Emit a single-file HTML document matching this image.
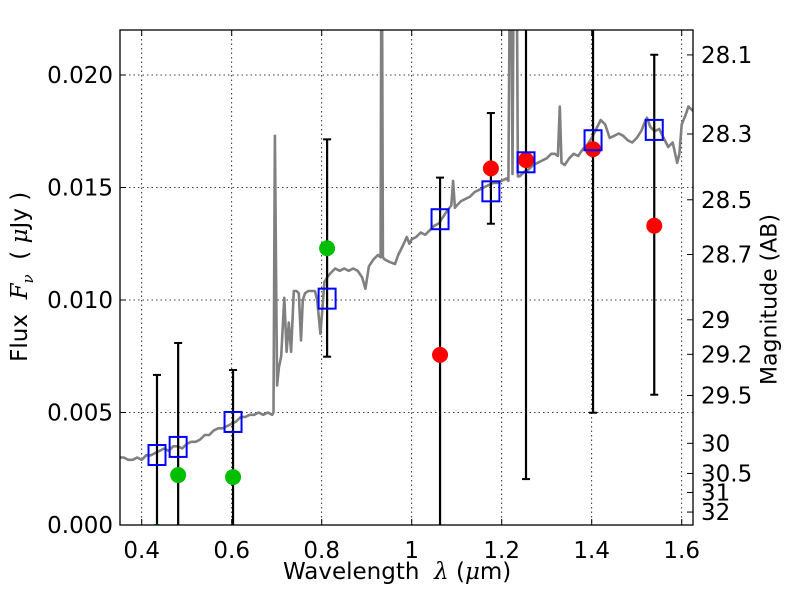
<!DOCTYPE html>
<html><head><meta charset="utf-8"><style>
body{margin:0;background:#fff}
svg{display:block;font-family:"DejaVu Sans","Liberation Sans",sans-serif}
</style></head><body>
<svg id="chart" width="800" height="600">
<defs><clipPath id="clip"><rect x="120" y="30" width="573" height="495"/></clipPath></defs>
<g id="grid"></g>
<g id="plot" clip-path="url(#clip)"></g>
<g id="axes"></g>
</svg>
<script>
const xTicks=[0.4,0.6,0.8,1.0,1.2,1.4,1.6];
const xTickLabels=["0.4","0.6","0.8","1","1.2","1.4","1.6"];
const yTicks=[0,0.005,0.01,0.015,0.02];
const yTickLabels=["0.000","0.005","0.010","0.015","0.020"];
const magTicks=[28.1,28.3,28.5,28.7,29,29.2,29.5,30,30.5,31,32];
const magLabels=["28.1","28.3","28.5","28.7","29","29.2","29.5","30","30.5","31","32"];
const specLam=[0.352,0.36,0.37,0.38,0.39,0.40,0.41,0.42,0.43,0.44,0.45,0.46,0.47,0.48,0.49,0.50,0.51,0.52,0.53,0.54,0.55,0.56,0.57,0.58,0.59,0.60,0.61,0.62,0.63,0.64,0.65,0.66,0.67,0.68,0.69,0.693,0.696,0.699,0.701,0.705,0.71,0.717,0.722,0.727,0.732,0.736,0.738,0.744,0.749,0.754,0.758,0.763,0.77,0.785,0.79,0.797,0.803,0.806,0.812,0.82,0.83,0.84,0.85,0.86,0.87,0.88,0.89,0.897,0.905,0.915,0.925,0.931,0.933,0.936,0.94,0.95,0.963,0.97,0.98,0.989,0.995,1.0,1.01,1.02,1.03,1.04,1.05,1.06,1.07,1.08,1.088,1.092,1.096,1.1,1.11,1.12,1.13,1.14,1.15,1.16,1.17,1.18,1.19,1.2,1.21,1.215,1.22,1.224,1.228,1.232,1.236,1.24,1.25,1.26,1.27,1.28,1.29,1.30,1.31,1.318,1.325,1.329,1.333,1.34,1.35,1.36,1.37,1.38,1.39,1.40,1.41,1.42,1.43,1.44,1.45,1.46,1.47,1.48,1.49,1.50,1.51,1.52,1.523,1.53,1.54,1.55,1.56,1.57,1.58,1.59,1.595,1.60,1.61,1.615,1.625];
const specFlux=[0.0030,0.0030,0.0029,0.0029,0.0030,0.0029,0.0031,0.0031,0.0032,0.0033,0.0034,0.0033,0.0035,0.0035,0.0034,0.0036,0.0037,0.0037,0.0038,0.0040,0.0040,0.0042,0.0043,0.0043,0.0044,0.0045,0.0046,0.0048,0.0048,0.0049,0.0049,0.0050,0.0049,0.0050,0.0049,0.0050,0.0173,0.0100,0.0062,0.0070,0.0075,0.0101,0.0077,0.0090,0.0077,0.0095,0.0104,0.0104,0.0103,0.0082,0.0100,0.0103,0.0104,0.0104,0.0100,0.0085,0.0100,0.0108,0.0110,0.0112,0.0114,0.0113,0.0114,0.0113,0.0114,0.0113,0.0110,0.0105,0.0115,0.0118,0.0120,0.0119,0.0300,0.0119,0.0118,0.0117,0.0116,0.0120,0.0124,0.0128,0.0125,0.0127,0.0128,0.0130,0.0129,0.0131,0.0133,0.0134,0.0137,0.0140,0.0142,0.0153,0.0141,0.0142,0.0144,0.0145,0.0146,0.0148,0.0149,0.0150,0.0151,0.0152,0.0152,0.0153,0.0154,0.0153,0.0300,0.0156,0.0300,0.0300,0.0155,0.0155,0.0157,0.0158,0.0160,0.0161,0.0162,0.0163,0.0165,0.0165,0.0164,0.0186,0.0161,0.0160,0.0163,0.0165,0.0164,0.0167,0.0169,0.0172,0.0176,0.0180,0.0178,0.0172,0.0173,0.0174,0.0173,0.0171,0.0170,0.0172,0.0175,0.0180,0.0181,0.0177,0.0175,0.0176,0.0172,0.0168,0.0170,0.0161,0.0165,0.0178,0.0183,0.0186,0.0184];
const modelLam=[0.434,0.481,0.603,0.812,1.063,1.176,1.254,1.403,1.539];
const modelFlux=[0.00311,0.00347,0.00458,0.01006,0.01359,0.01483,0.01612,0.0171,0.01756];
const greenLam=[0.434,0.481,0.603,0.812];
const greenFlux=[-0.0003,0.00222,0.00213,0.0123];
const redLam=[1.063,1.176,1.254,1.403,1.539];
const redFlux=[0.00756,0.01585,0.01622,0.0167,0.0133];
const errLam=[0.434,0.481,0.603,0.812,1.063,1.176,1.254,1.403,1.539];
const errHigh=[0.00667,0.00809,0.00689,0.01714,0.01544,0.01831,0.03,0.03,0.0209];
const errLow=[-0.002,-0.002,-0.002,0.00748,-0.002,0.01339,0.00204,0.00499,0.00579];

const L=120,R=693,T=30,B=525;
const X=v=>141.7+(v-0.4)*450;
const Y=v=>B-v*22500;
const NS="http://www.w3.org/2000/svg";
function mk(tag,attrs,parent){const e=document.createElementNS(NS,tag);for(const k in attrs)e.setAttribute(k,attrs[k]);parent.appendChild(e);return e;}
const grid=document.getElementById('grid'),plot=document.getElementById('plot'),axes=document.getElementById('axes');

xTicks.forEach((v,i)=>{
 const g=mk('line',{x1:X(v),x2:X(v),y1:T,y2:B,stroke:'#000','stroke-width':0.8,'stroke-dasharray':'1.5,3'},grid);
 
 
 mk('line',{x1:X(v),x2:X(v),y1:B,y2:B-6,stroke:'#000'},axes);
 mk('line',{x1:X(v),x2:X(v),y1:T,y2:T+6,stroke:'#000'},axes);
 const t=mk('text',{x:X(v),y:B+33,'text-anchor':'middle','font-size':23},axes);
 t.textContent=xTickLabels[i];
 
 
});
yTicks.forEach((v,i)=>{
 const g=mk('line',{x1:L,x2:R,y1:Y(v),y2:Y(v),stroke:'#000','stroke-width':0.8,'stroke-dasharray':'1.5,3'},grid);
 
 
 mk('line',{x1:L,x2:L+6,y1:Y(v),y2:Y(v),stroke:'#000'},axes);
 const t=mk('text',{x:L-7,y:Y(v)+8,'text-anchor':'end','font-size':23},axes);
 t.textContent=yTickLabels[i];
 
 
});
magTicks.forEach((m,i)=>{
 const f=Math.pow(10,(23.9-m)/2.5);const y=Y(f);
 mk('line',{x1:R,x2:R-6,y1:y,y2:y,stroke:'#000'},axes);
 const t=mk('text',{x:R+8,y:y+8,'text-anchor':'start','font-size':23},axes);
 t.textContent=magLabels[i];
 
 
});

const pts=specLam.map((l,i)=>X(l).toFixed(1)+','+Y(specFlux[i]).toFixed(1)).join(' ');
const sp=mk('polyline',{points:pts,fill:'none',stroke:'#808080','stroke-width':2.6,'stroke-linejoin':'round'},plot);



errLam.forEach((l,i)=>{
 const x=X(l),y1=Y(errHigh[i]),y2=Y(errLow[i]);
 const e=mk('line',{x1:x,x2:x,y1:y1,y2:y2,stroke:'#000','stroke-width':2.2},plot);
 
 
 mk('line',{x1:x-4,x2:x+4,y1:y1,y2:y1,stroke:'#000','stroke-width':2},plot);
 mk('line',{x1:x-4,x2:x+4,y1:y2,y2:y2,stroke:'#000','stroke-width':2},plot);
});
greenLam.forEach((l,i)=>{
 const c=mk('circle',{cx:X(l),cy:Y(greenFlux[i]),r:8,fill:'#00bf00'},plot);
 
 
});
redLam.forEach((l,i)=>{
 const c=mk('circle',{cx:X(l),cy:Y(redFlux[i]),r:8,fill:'#ff0000'},plot);
 
 
});
modelLam.forEach((l,i)=>{
 const s=mk('rect',{x:X(l)-8.5,y:Y(modelFlux[i])-10,width:17,height:20,fill:'none',stroke:'#0000ff','stroke-width':2},plot);
 
 
});
const fr=mk('rect',{x:L,y:T,width:R-L,height:B-T,fill:'none',stroke:'#000','stroke-width':1.3},axes);


</script>
<div style="position:absolute;left:0;top:0;width:800px;height:600px;pointer-events:none;font-family:'DejaVu Sans','Liberation Sans',sans-serif">
<div style="position:absolute;left:283px;top:559px;font-size:23px;white-space:nowrap">Wavelength&nbsp; <i style="font-family:'DejaVu Serif',serif">λ</i> (<i style="font-family:'DejaVu Serif',serif">μ</i>m)</div>
<div style="position:absolute;left:-98px;top:262px;width:240px;text-align:center;transform:rotate(-90deg);font-size:23px;white-space:nowrap">Flux&nbsp; <i style="font-family:'DejaVu Serif',serif">F<sub style="font-size:15px">ν</sub></i>&nbsp; ( <i style="font-family:'DejaVu Serif',serif">μ</i>Jy )</div>
<div style="position:absolute;left:665px;top:287px;width:210px;text-align:center;transform:rotate(-90deg);font-size:22px;white-space:nowrap">Magnitude (AB)</div>
</div>
</body></html>
